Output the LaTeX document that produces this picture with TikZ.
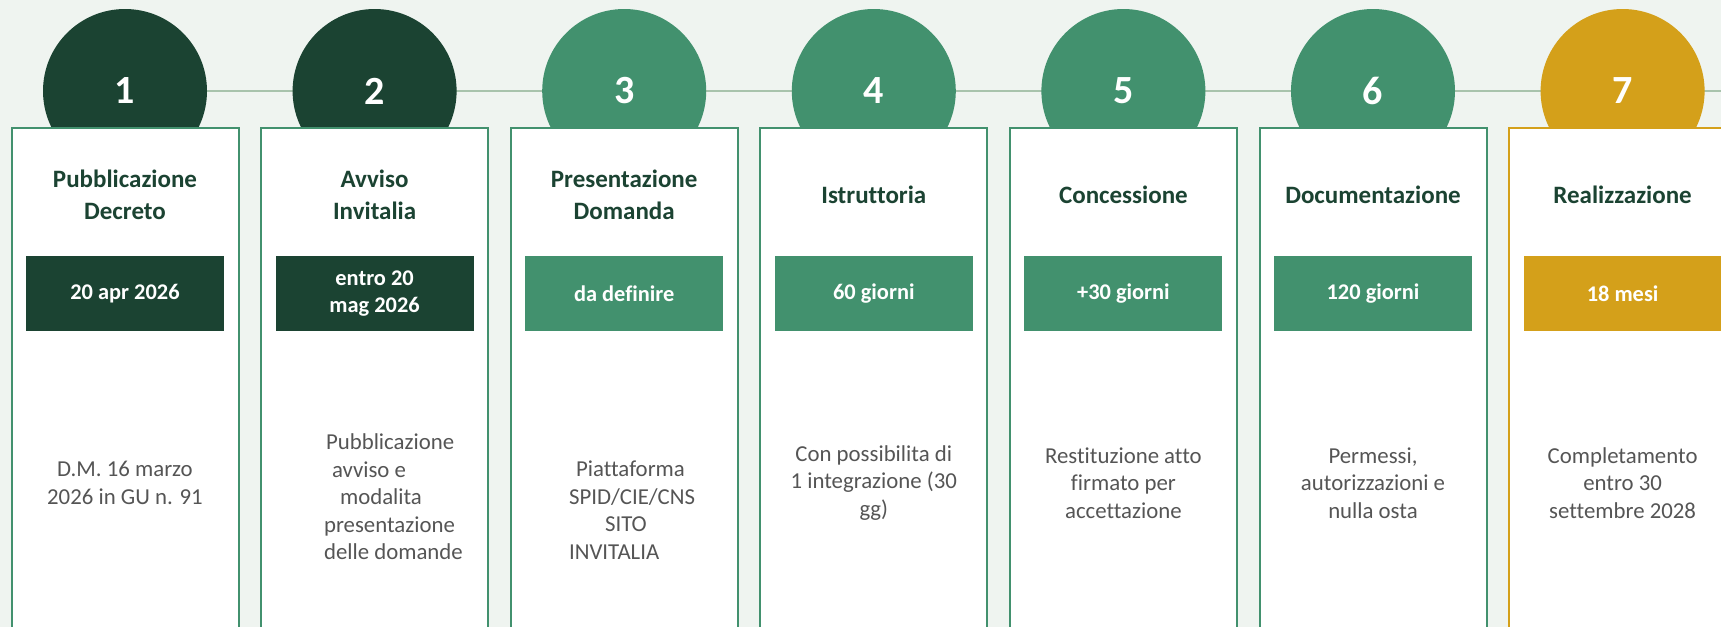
\documentclass[tikz,border=0pt]{standalone}
\usepackage{fontspec}
\setmainfont{Carlito}[Ligatures=NoCommon]
\definecolor{bg}{RGB}{239,244,240}
\definecolor{dkgreen}{RGB}{27,67,50}
\definecolor{mdgreen}{RGB}{66,145,110}
\definecolor{gold}{RGB}{212,160,26}
\definecolor{linec}{RGB}{168,195,172}
\definecolor{desctext}{RGB}{85,85,85}
\begin{document}
\begin{tikzpicture}[x=0.5pt,y=-0.5pt,
  circ/.style={circle, minimum size=82pt, inner sep=0pt, fill=#1, text=white,
    font=\bfseries\fontsize{20}{20}\selectfont},
  cardbox/.style={draw=#1, line width=1pt, fill=white, minimum width=113.5pt,
    minimum height=262pt, anchor=north, inner sep=0pt},
  titletext/.style={font=\bfseries\fontsize{12.5}{15.8}\selectfont, text=dkgreen, align=center},
  datebox/.style={fill=#1, minimum width=99pt, minimum height=37.5pt, inner sep=0pt,
    text=white, align=center, font=\bfseries\fontsize{11.2}{13.5}\selectfont},
  desc/.style={font=\fontsize{11.4}{13.75}\selectfont, text=desctext, align=center},
  descl/.style={font=\fontsize{11.4}{13.75}\selectfont, text=desctext, align=left, anchor=west}
]
\useasboundingbox (0,0) rectangle (1721,627);
\begin{scope}
\clip (0,0) rectangle (1721,627);
\fill[bg] (0,0) rectangle (1721,627);
\coordinate (edgeR) at (1721,91);
\coordinate (lineL) at (125,91);
\draw[linec, line width=1.2pt] (lineL) -- (edgeR);
\foreach \i/\c/\b/\t/\d in {
  1/dkgreen/mdgreen/{Pubblicazione\\Decreto}/{20 apr 2026},
  2/dkgreen/mdgreen/{Avviso\\Invitalia}/{entro 20\\mag 2026},
  3/mdgreen/mdgreen/{Presentazione\\Domanda}/{da definire},
  4/mdgreen/mdgreen/{Istruttoria}/{60 giorni},
  5/mdgreen/mdgreen/{Concessione}/{+30 giorni},
  6/mdgreen/mdgreen/{Documentazione}/{120 giorni},
  7/gold/gold/{Realizzazione}/{18 mesi}}{
  \pgfmathsetmacro{\cx}{125+(\i-1)*249.6}
  \node[circ=\c] (n\i) at (\cx,91) {\raisebox{-2pt}{\i}};
  \node[cardbox=\b] (card\i) at (\cx,127) {};
  \node[titletext] (t\i) at (\cx,195) {\t};
  \node[datebox=\c] (d\i) at (\cx,293.5) {\d};
}
\node[desc] (e1) at (125,483) {D.M. 16 marzo\\2026 in GU n. 91};
\node[descl] (e2) at (317,497) {\hspace*{1pt}Pubblicazione\\\hspace*{4pt}avviso e\\\hspace*{8pt}modalita\\presentazione\\delle domande};
\node[descl] (e3) at (562,510) {\hspace*{3.5pt}Piattaforma\\SPID/CIE/CNS\\\hspace*{18pt}SITO\\INVITALIA};
\node[desc] (e4) at (873.8,483) {Con possibilita di\\1 integrazione (30\\gg)};
\node[desc] (e5) at (1123.4,483) {Restituzione atto\\firmato per\\accettazione};
\node[desc] (e6) at (1373,483) {Permessi,\\autorizzazioni e\\nulla osta};
\node[desc] (e7) at (1622.6,483) {Completamento\\entro 30\\settembre 2028};
\end{scope}
\end{tikzpicture}
\end{document}
